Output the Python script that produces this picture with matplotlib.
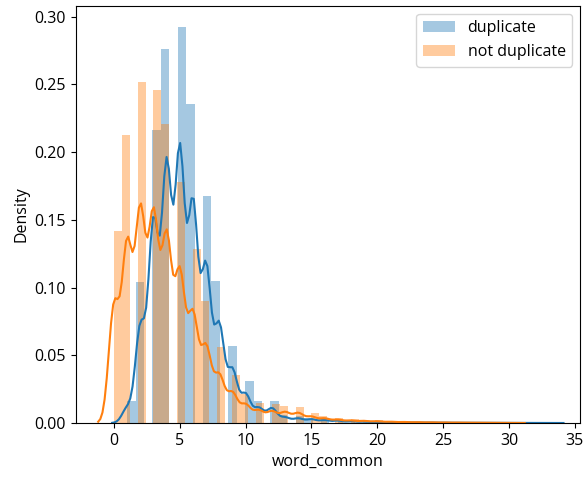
import numpy as np
import matplotlib
matplotlib.use("Agg")
import matplotlib.pyplot as plt

plt.rcParams['font.family'] = ['Open Sans', 'DejaVu Sans']
plt.rcParams['font.size'] = 11.5

# word_common value -> bar height (density)
dup_values = np.arange(1, 34)
dup_heights = [0.016, 0.104, 0.217, 0.277, 0.293, 0.236, 0.168, 0.105, 0.057, 0.031,
               0.016, 0.016, 0.006, 0.005, 0.004, 0.003, 0.0025, 0.002, 0.0015, 0.0012,
               0.001, 0.0008, 0.0006, 0.0005, 0.0004, 0.0003, 0.0003, 0.0002, 0.0002, 0.0001,
               0.0001, 0.0001, 0.0001]

notdup_values = np.arange(0, 31)
notdup_heights = [0.143, 0.215, 0.2545, 0.249, 0.223, 0.18, 0.13, 0.091, 0.057, 0.036,
                  0.022, 0.015, 0.014, 0.013, 0.012, 0.0076, 0.0055, 0.004, 0.003, 0.0025,
                  0.002, 0.0015, 0.0012, 0.001, 0.0008, 0.0006, 0.0005, 0.0004, 0.0003, 0.0002,
                  0.0002]

labels = ['duplicate', 'not duplicate']
colors = ['#1f77b4', '#ff7f0e']
bws = [0.38, 0.40]


def kde(vals, w, bw, cut=3, n=200):
    w = np.asarray(w, float)
    w = w / w.sum()
    grid = np.linspace(vals.min() - cut * bw, vals.max() + cut * bw, n)
    z = (grid[:, None] - vals[None, :]) / bw
    dens = (np.exp(-0.5 * z ** 2) / (bw * np.sqrt(2 * np.pi)) * w[None, :]).sum(axis=1)
    return grid, dens


fig = plt.figure(figsize=(5.83, 4.88), dpi=100)
ax = fig.add_axes([0.130, 0.1332, 0.865, 0.855])

for vals, hts, lab, col, bw in zip([dup_values, notdup_values], [dup_heights, notdup_heights],
                                   labels, colors, bws):
    bins = np.linspace(vals.min(), vals.max(), 51)
    ax.hist(vals, bins=bins, weights=hts, density=True, color=col, alpha=0.4, label=lab)
    gx, gy = kde(vals, hts, bw)
    ax.plot(gx, gy, color=col, lw=1.5)

ax.set_xlim(-2.9, 35.4)
ax.set_ylim(0, 0.308)
ax.set_xticks(np.arange(0, 36, 5))
ax.set_yticks(np.arange(0, 0.31, 0.05))
ax.set_xlabel('word_common')
ax.set_ylabel('Density')
ax.legend(loc='upper right')

fig.savefig('out.png', dpi=100)
